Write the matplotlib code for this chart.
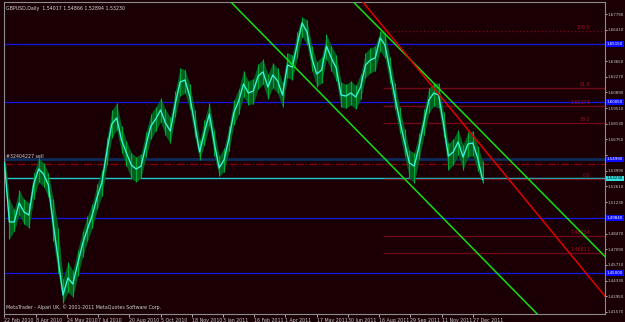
import matplotlib.pyplot as plt
from matplotlib.transforms import blended_transform_factory

closes = [1.5468, 1.4949, 1.4949, 1.5116, 1.5037, 1.5010, 1.5283, 1.5415, 1.5371, 1.5274,
          1.4931, 1.4623, 1.4306, 1.4456, 1.4403, 1.4579, 1.4755, 1.4887, 1.5010, 1.5169,
          1.5301, 1.5573, 1.5811, 1.5864, 1.5670, 1.5556, 1.5450, 1.5415, 1.5441, 1.5626,
          1.5793, 1.5855, 1.5934, 1.5820, 1.5749, 1.5987, 1.6181, 1.6198, 1.6049, 1.5811,
          1.5565, 1.5741, 1.5899, 1.5644, 1.5424, 1.5494, 1.5679, 1.5908, 1.6013, 1.6163,
          1.6084, 1.6101, 1.6233, 1.6269, 1.6137, 1.6242, 1.6189, 1.6066, 1.6330, 1.6313,
          1.6506, 1.6700, 1.6621, 1.6392, 1.6251, 1.6286, 1.6497, 1.6392, 1.6304, 1.6066,
          1.6057, 1.6084, 1.6049, 1.6137, 1.6330, 1.6374, 1.6392, 1.6568, 1.6506, 1.6286,
          1.6057, 1.5846, 1.5653, 1.5468, 1.5441, 1.5617, 1.5829, 1.6022, 1.6084, 1.6066,
          1.5811, 1.5529, 1.5565, 1.5653, 1.5521, 1.5635, 1.5644, 1.5512, 1.5323]
highs = [1.5560, 1.5150, 1.5060, 1.5230, 1.5150, 1.5120, 1.5380, 1.5512, 1.5470, 1.5380,
         1.5150, 1.4900, 1.4450, 1.4600, 1.4520, 1.4700, 1.4870, 1.5000, 1.5110, 1.5280,
         1.5410, 1.5690, 1.5930, 1.5996, 1.5790, 1.5660, 1.5560, 1.5520, 1.5550, 1.5740,
         1.5900, 1.5960, 1.6040, 1.5940, 1.5870, 1.6100, 1.6304, 1.6290, 1.6160, 1.5930,
         1.5670, 1.5850, 1.6000, 1.5760, 1.5530, 1.5600, 1.5790, 1.6020, 1.6120, 1.6280,
         1.6190, 1.6210, 1.6340, 1.6380, 1.6250, 1.6350, 1.6300, 1.6180, 1.6440, 1.6420,
         1.6620, 1.6753, 1.6730, 1.6500, 1.6360, 1.6400, 1.6600, 1.6500, 1.6420, 1.6180,
         1.6160, 1.6190, 1.6150, 1.6250, 1.6440, 1.6480, 1.6500, 1.6629, 1.6610, 1.6400,
         1.6170, 1.5960, 1.5770, 1.5580, 1.5560, 1.5730, 1.5940, 1.6130, 1.6172, 1.6170,
         1.5920, 1.5640, 1.5680, 1.5760, 1.5630, 1.5740, 1.5750, 1.5620, 1.5487]
lows = [1.5400, 1.4800, 1.4870, 1.5010, 1.4930, 1.4900, 1.5150, 1.5300, 1.5260, 1.5170,
        1.4780, 1.4500, 1.4236, 1.4330, 1.4290, 1.4470, 1.4640, 1.4780, 1.4900, 1.5060,
        1.5180, 1.5450, 1.5690, 1.5760, 1.5560, 1.5440, 1.5330, 1.5301, 1.5340, 1.5520,
        1.5680, 1.5750, 1.5830, 1.5710, 1.5640, 1.5870, 1.6060, 1.6080, 1.5940, 1.5700,
        1.5494, 1.5630, 1.5790, 1.5530, 1.5353, 1.5390, 1.5570, 1.5800, 1.5900, 1.6050,
        1.5980, 1.5990, 1.6120, 1.6160, 1.6030, 1.6130, 1.6080, 1.5960, 1.6220, 1.6200,
        1.6390, 1.6580, 1.6510, 1.6280, 1.6140, 1.6170, 1.6380, 1.6280, 1.6190, 1.5960,
        1.5950, 1.5980, 1.5940, 1.6030, 1.6220, 1.6260, 1.6280, 1.6450, 1.6390, 1.6170,
        1.5940, 1.5730, 1.5530, 1.5340, 1.5290, 1.5500, 1.5710, 1.5910, 1.5970, 1.5950,
        1.5700, 1.5406, 1.5450, 1.5540, 1.5410, 1.5520, 1.5530, 1.5400, 1.5289]
step = 5

date_labels = ["22 Feb 2010", "8 Apr 2010", "24 May 2010", "7 Jul 2010", "20 Aug 2010",
               "5 Oct 2010", "18 Nov 2010", "3 Jan 2011", "16 Feb 2011", "1 Apr 2011",
               "17 May 2011", "30 Jun 2011", "16 Aug 2011", "29 Sep 2011", "11 Nov 2011",
               "27 Dec 2011"]
label_every = 32

price_ticks = [1.6779, 1.6641, 1.6503, 1.6365, 1.6227, 1.6089, 1.5951, 1.5813, 1.5675, 1.5537,
               1.5399, 1.5261, 1.5123, 1.4985, 1.4847, 1.4709, 1.4571, 1.4433, 1.4295, 1.4157]

blue_levels = [1.6515, 1.6005, 1.4984, 1.4500]
order_price = 1.5499
order_stop = 1.5459
bid_price = 1.5323

fibo_levels = [1.6629, 1.6128, 1.5969, 1.5820, 1.5327, 1.4825, 1.4676]
fibo_texts = ["100.0", "61.8", "1.60174", "38.2", "0.0", "1.48224", "1.46811"]
fibo_start = 388

green_a = [(232, 1.6885), (546, 1.4139)]
green_b = [(388, 1.6621), (617, 1.4632)]
red_a = [(439, 1.6137), (617, 1.4280)]

bg = '#1a0004'
small = 3.4
axfont = 2.9
fig = plt.figure(figsize=(6.25, 3.22), dpi=100, facecolor=bg)
ax = fig.add_axes([4 / 625, 8 / 322, 601 / 625, 312 / 322], facecolor=bg)
ax.set_xlim(-0.5, 615.5)
ax.set_ylim(1.4139, 1.68846)

xs = [i * step for i in range(len(closes))]

# horizontal levels first (drawn underneath the price)
for lv in blue_levels:
    ax.axhline(lv, color='#1414e6', lw=0.9, zorder=1)
ax.axhline(order_price, color='#0c2c5c', lw=2, zorder=1)
ax.axhline(order_stop, color='#8a0010', lw=0.9, ls='-.', zorder=1)
ax.axhline(bid_price + 0.0009, color='#20c8c8', lw=1, zorder=1)

for lv, txt in zip(fibo_levels, fibo_texts):
    ls = ':' if txt == "100.0" else '-'
    ax.hlines(lv, fibo_start, 615.5, color='#6e0a18', lw=1, ls=ls, zorder=1)
    ax.text(600, lv + 0.0008, txt, color='#a01020', fontsize=small, ha='right', va='bottom')

# price bars + line
ax.fill_between(xs, lows, highs, color='#006020', lw=0, zorder=2)
ax.vlines(xs, lows, highs, color='#00a838', lw=0.8, zorder=2)
ax.plot(xs, closes, color='#3cf0d0', lw=1.0, zorder=3)

# trend lines
for pts, c in [(green_a, '#10e010'), (green_b, '#10e010'), (red_a, '#e00000')]:
    ax.axline(pts[0], pts[1], color=c, lw=1.1, zorder=4)

# axes styling
for s in ax.spines.values():
    s.set_color('#8c8c8c')
    s.set_linewidth(0.8)
ax.yaxis.tick_right()
boxed = blue_levels + [order_price, bid_price]
ax.set_yticks(price_ticks)
ax.set_yticklabels(["" if any(abs(v - b) < 0.005 for b in boxed) else f"{v:.5f}"
                    for v in price_ticks])
ax.tick_params(axis='y', colors='#c8c8c8', labelsize=axfont, length=1.5, pad=0.4, width=0.6)
ax.set_xticks([i * label_every for i in range(len(date_labels))])
ax.set_xticklabels(date_labels, ha='left')
ax.tick_params(axis='x', colors='#c8c8c8', labelsize=small, length=2.5, pad=0.3, width=0.6)

# price boxes on the right axis
tr = blended_transform_factory(ax.transAxes, ax.transData)
for lv in blue_levels + [order_price]:
    ax.text(1.003, lv, f"{lv:.5f}", transform=tr, fontsize=axfont, color='white', va='center',
            ha='left', bbox=dict(boxstyle='square,pad=0.2', fc='#0a0aff', ec='none'))
ax.text(1.003, bid_price + 0.0009, f"{bid_price:.5f}", transform=tr, fontsize=axfont, color='black',
        va='center', ha='left', bbox=dict(boxstyle='square,pad=0.2', fc='#30e0e0', ec='none'))

# texts
ax.text(0.003, 0.988, "GBPUSD,Daily  1.54017 1.54866 1.52894 1.53230", transform=ax.transAxes,
        color='#d8d8d8', fontsize=small, va='top')
ax.text(2, order_price + 0.0006, "#32404227 sell", color='#d0d0d0', fontsize=small, va='bottom')
ax.text(0.003, 0.012, "MetaTrader - Alpari UK, \u00a9 2001-2011 MetaQuotes Software Corp.",
        transform=ax.transAxes, color='#d0d0d0', fontsize=small, va='bottom')

fig.savefig('out.png', dpi=100, facecolor=bg)
